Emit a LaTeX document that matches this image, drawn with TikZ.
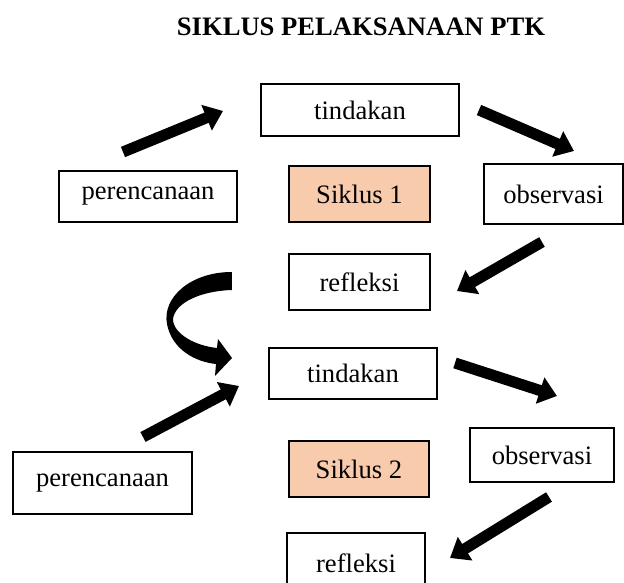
\documentclass[tikz,border=0pt]{standalone}
\usepackage{fontspec}
\setmainfont{Liberation Serif}
\usepackage{tikz}
\usetikzlibrary{arrows.meta}
\definecolor{peach}{RGB}{248,203,173}

\begin{document}
\begin{tikzpicture}[x=0.451pt,y=-0.451pt,font=\fontsize{12}{14}\selectfont]
    \tikzstyle{stage}=[draw=black,line width=0.9pt,fill=white,inner sep=0pt]
    \tikzstyle{cycle}=[stage,fill=peach]
    \tikzstyle{bigarrow}=[line width=5pt,-{Triangle[width=12pt,length=8pt]}]

    \useasboundingbox (0,0) rectangle (624,583);
    \clip (0,0) rectangle (624,583);

    % Title
    \node[font=\fontsize{12}{14}\selectfont\bfseries] (title) at (361,27) {SIKLUS PELAKSANAAN PTK};

    % Draw the first cycle
    \node[stage,minimum width=89.3pt,minimum height=23.5pt] (T-1) at (360,110) {tindakan};
    \node[stage,minimum width=80.3pt,minimum height=23pt] (P-1) at (148,196.5) {perencanaan};
    \node[cycle,minimum width=63.6pt,minimum height=25.3pt] (S-1) at (359.5,194) {Siklus 1};
    \node[stage,minimum width=62.7pt,minimum height=27.1pt] (O-1) at (553.5,194) {observasi};
    \node[stage,minimum width=63.6pt,minimum height=25.3pt] (R-1) at (359.5,282) {refleksi};

    % Draw the second cycle
    \node[stage,minimum width=75.8pt,minimum height=23pt] (T-2) at (353,373.5) {tindakan};
    \node[stage,minimum width=80.7pt,minimum height=28pt] (P-2) at (102.5,483) {perencanaan};
    \node[cycle,minimum width=63.1pt,minimum height=25.3pt] (S-2) at (359,469) {Siklus 2};
    \node[stage,minimum width=64.9pt,minimum height=24.4pt] (O-2) at (542,455) {observasi};
    \node[stage,minimum width=62.2pt,minimum height=27.1pt] (R-2) at (356,563) {refleksi};

    % Ends of the arrows
    \coordinate (a1) at (123,152);  \coordinate (b1) at (223,111);
    \coordinate (a2) at (479,110);  \coordinate (b2) at (574,151);
    \coordinate (a3) at (542,242);  \coordinate (b3) at (457,291);
    \coordinate (a4) at (143,437);  \coordinate (b4) at (239,386);
    \coordinate (a5) at (455,363);  \coordinate (b5) at (557,396);
    \coordinate (a6) at (549,497);  \coordinate (b6) at (450,558);

    % Connect the steps
    \foreach \i in {1,...,6}
        \draw[bigarrow] (a\i) -- (b\i);

    % Curved arrow from the first cycle to the second
    \fill (232,272) .. controls (190,272) and (162,298) .. (167,324)
        .. controls (172,350) and (196,362) .. (216,364)
        -- (215,376) -- (232,358) -- (218,339) -- (217,348)
        .. controls (196,346) and (173,334) .. (173,319)
        .. controls (175,303) and (200,291) .. (232,290) -- cycle;
\end{tikzpicture}
\end{document}
